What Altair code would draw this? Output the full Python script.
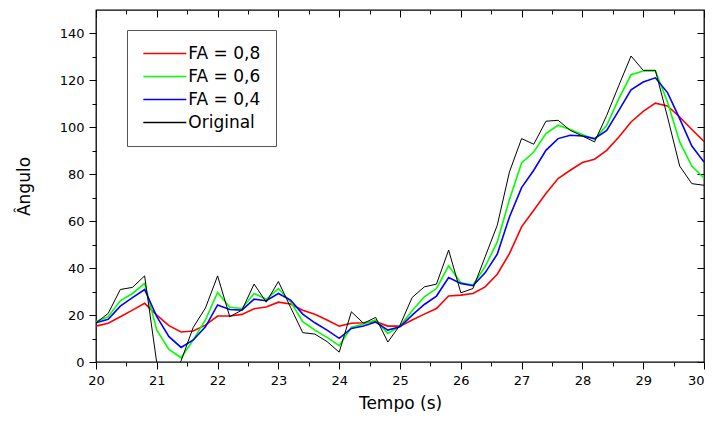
import altair as alt
import pandas as pd

tempo = [20.0, 20.2, 20.4, 20.6, 20.8, 21.0, 21.2, 21.4, 21.6, 21.8,
         22.0, 22.2, 22.4, 22.6, 22.8, 23.0, 23.2, 23.4, 23.6, 23.8,
         24.0, 24.2, 24.4, 24.6, 24.8, 25.0, 25.2, 25.4, 25.6, 25.8,
         26.0, 26.2, 26.4, 26.6, 26.8, 27.0, 27.2, 27.4, 27.6, 27.8,
         28.0, 28.2, 28.4, 28.6, 28.8, 29.0, 29.2, 29.4, 29.6, 29.8, 30.0]

original = [16.7, 20.7, 30.9, 31.8, 36.7, -0.5, -8.0, 0.5, 14.8, 23.0,
            36.7, 19.3, 22.1, 33.2, 25.5, 34.3, 23.3, 12.5, 11.9, 8.7,
            4.2, 21.4, 16.5, 19.0, 8.5, 15.7, 27.5, 32.0, 33.2, 47.7,
            29.5, 31.3, 44.8, 58.3, 81.0, 95.2, 92.8, 102.6, 103.0, 98.7,
            96.3, 93.8, 105.1, 117.9, 130.4, 124.3, 124.3, 104.4, 83.5, 76.0, 75.3]

fa06 = [17.2, 19.3, 26.1, 29.2, 33.5, 13.6, 5.4, 1.8, 9.4, 17.9,
        29.6, 23.3, 22.8, 29.2, 26.7, 31.3, 25.7, 17.2, 13.6, 10.5,
        7.0, 14.8, 16.2, 17.9, 12.2, 15.3, 21.8, 27.8, 31.3, 41.0,
        33.8, 32.8, 40.6, 51.2, 69.2, 84.8, 89.5, 97.3, 100.9, 99.1,
        96.9, 94.9, 100.9, 112.2, 122.4, 124.0, 124.1, 110.8, 93.8, 83.5, 78.4]

fa04 = [16.7, 18.2, 23.8, 27.4, 30.9, 19.3, 10.8, 6.2, 9.4, 15.0,
        24.3, 22.4, 22.1, 26.8, 26.1, 29.2, 26.4, 20.4, 16.7, 13.6,
        10.1, 14.3, 15.3, 17.0, 13.6, 15.0, 20.0, 24.5, 28.1, 36.0,
        33.5, 32.5, 38.0, 46.0, 61.8, 74.3, 81.7, 90.2, 95.2, 96.6,
        96.3, 95.2, 98.7, 107.2, 116.0, 119.3, 121.1, 114.8, 103.7, 92.0, 85.2]

fa08 = [15.3, 16.5, 19.3, 22.1, 25.0, 20.0, 15.5, 12.8, 13.2, 15.7,
        19.6, 19.6, 20.3, 22.7, 23.4, 25.5, 24.7, 22.1, 20.3, 17.9,
        15.3, 16.5, 16.7, 17.2, 15.3, 15.3, 17.9, 20.4, 22.8, 28.1,
        28.5, 29.2, 32.0, 37.4, 46.2, 57.6, 64.7, 71.8, 78.2, 81.7,
        85.0, 86.4, 90.2, 95.9, 102.3, 106.8, 110.3, 109.1, 104.4, 99.1, 94.0]

series_names = ["FA = 0,8", "FA = 0,6", "FA = 0,4", "Original"]
series_colors = ["#ff0000", "#00ff00", "#0000ff", "#000000"]
series_widths = [1.6, 1.6, 1.6, 1.0]
series_values = [fa08, fa06, fa04, original]

x_major = [20, 21, 22, 23, 24, 25, 26, 27, 28, 29, 30]
x_minor = [20.5, 21.5, 22.5, 23.5, 24.5, 25.5, 26.5, 27.5, 28.5, 29.5]
y_major = [0, 20, 40, 60, 80, 100, 120, 140]
y_minor = [10, 30, 50, 70, 90, 110, 130]

rows = []
for name, w, vals in zip(series_names, series_widths, series_values):
    for tt, v in zip(tempo, vals):
        rows.append({"t": tt, "v": v, "serie": name, "w": w})
df = pd.DataFrame(rows)

FONT = "DejaVu Sans"
xs = alt.Scale(domain=[20, 30], nice=False, zero=False)
ys = alt.Scale(domain=[0, 150], nice=False, zero=False)

lines = alt.Chart(df).mark_line(clip=True).encode(
    x=alt.X("t:Q", scale=xs, axis=alt.Axis(
        orient="bottom", values=x_major, tickSize=7, labelFontSize=13,
        labelPadding=5, labelFlush=False,
        labelAlign=alt.condition("datum.value == 30", alt.value("right"), alt.value("center")),
        title="Tempo (s)", titleFontSize=17, titlePadding=8)),
    y=alt.Y("v:Q", scale=ys, axis=alt.Axis(
        orient="left", values=y_major, tickSize=7, labelFontSize=13,
        labelPadding=5, title="Ângulo", titleFontSize=17, titlePadding=26)),
    color=alt.Color("serie:N",
                    scale=alt.Scale(domain=series_names, range=series_colors),
                    title=None,
                    legend=alt.Legend(
                        orient="none", legendX=31, legendY=20,
                        symbolType="M-3,0H3", symbolSize=205, symbolOffset=14.3,
                        symbolStrokeWidth=1.5, labelOffset=15,
                        labelFontSize=17, labelFont=FONT, labelColor="black",
                        padding=15, rowPadding=5, strokeColor="#555555",
                        fillColor="white")),
    strokeWidth=alt.StrokeWidth("w:Q", scale=None),
)


def axis_layer(xaxis, yaxis):
    return alt.Chart(df).mark_point(opacity=0, clip=True).encode(
        x=alt.X("t:Q", scale=xs, axis=xaxis),
        y=alt.Y("v:Q", scale=ys, axis=yaxis),
    )


minor_bl = axis_layer(
    alt.Axis(orient="bottom", values=x_minor, tickSize=4, labels=False, title=""),
    alt.Axis(orient="left", values=y_minor, tickSize=4, labels=False, title=""),
)
major_tr = axis_layer(
    alt.Axis(orient="top", values=x_major, tickSize=7, offset=-7, labels=False, title=""),
    alt.Axis(orient="right", values=y_major, tickSize=7, offset=-7, labels=False, title=""),
)
minor_tr = axis_layer(
    alt.Axis(orient="top", values=x_minor, tickSize=4, offset=-4, labels=False, title=""),
    alt.Axis(orient="right", values=y_minor, tickSize=4, offset=-4, labels=False, title=""),
)

chart = alt.layer(lines, minor_bl, major_tr, minor_tr).resolve_axis(
    x="independent", y="independent"
).properties(
    width=608, height=352,
    autosize=alt.AutoSizeParams(type="none"),
    padding={"left": 88, "top": 2, "right": 1, "bottom": 50},
).configure_axis(
    domain=False, grid=False, tickColor="black", tickWidth=1,
    labelColor="black", titleColor="black", labelFont=FONT, titleFont=FONT,
    titleFontWeight="normal",
).configure_view(stroke="black", strokeWidth=1.3)

chart.save("out.html", embed_options={"renderer": "svg", "actions": False})
